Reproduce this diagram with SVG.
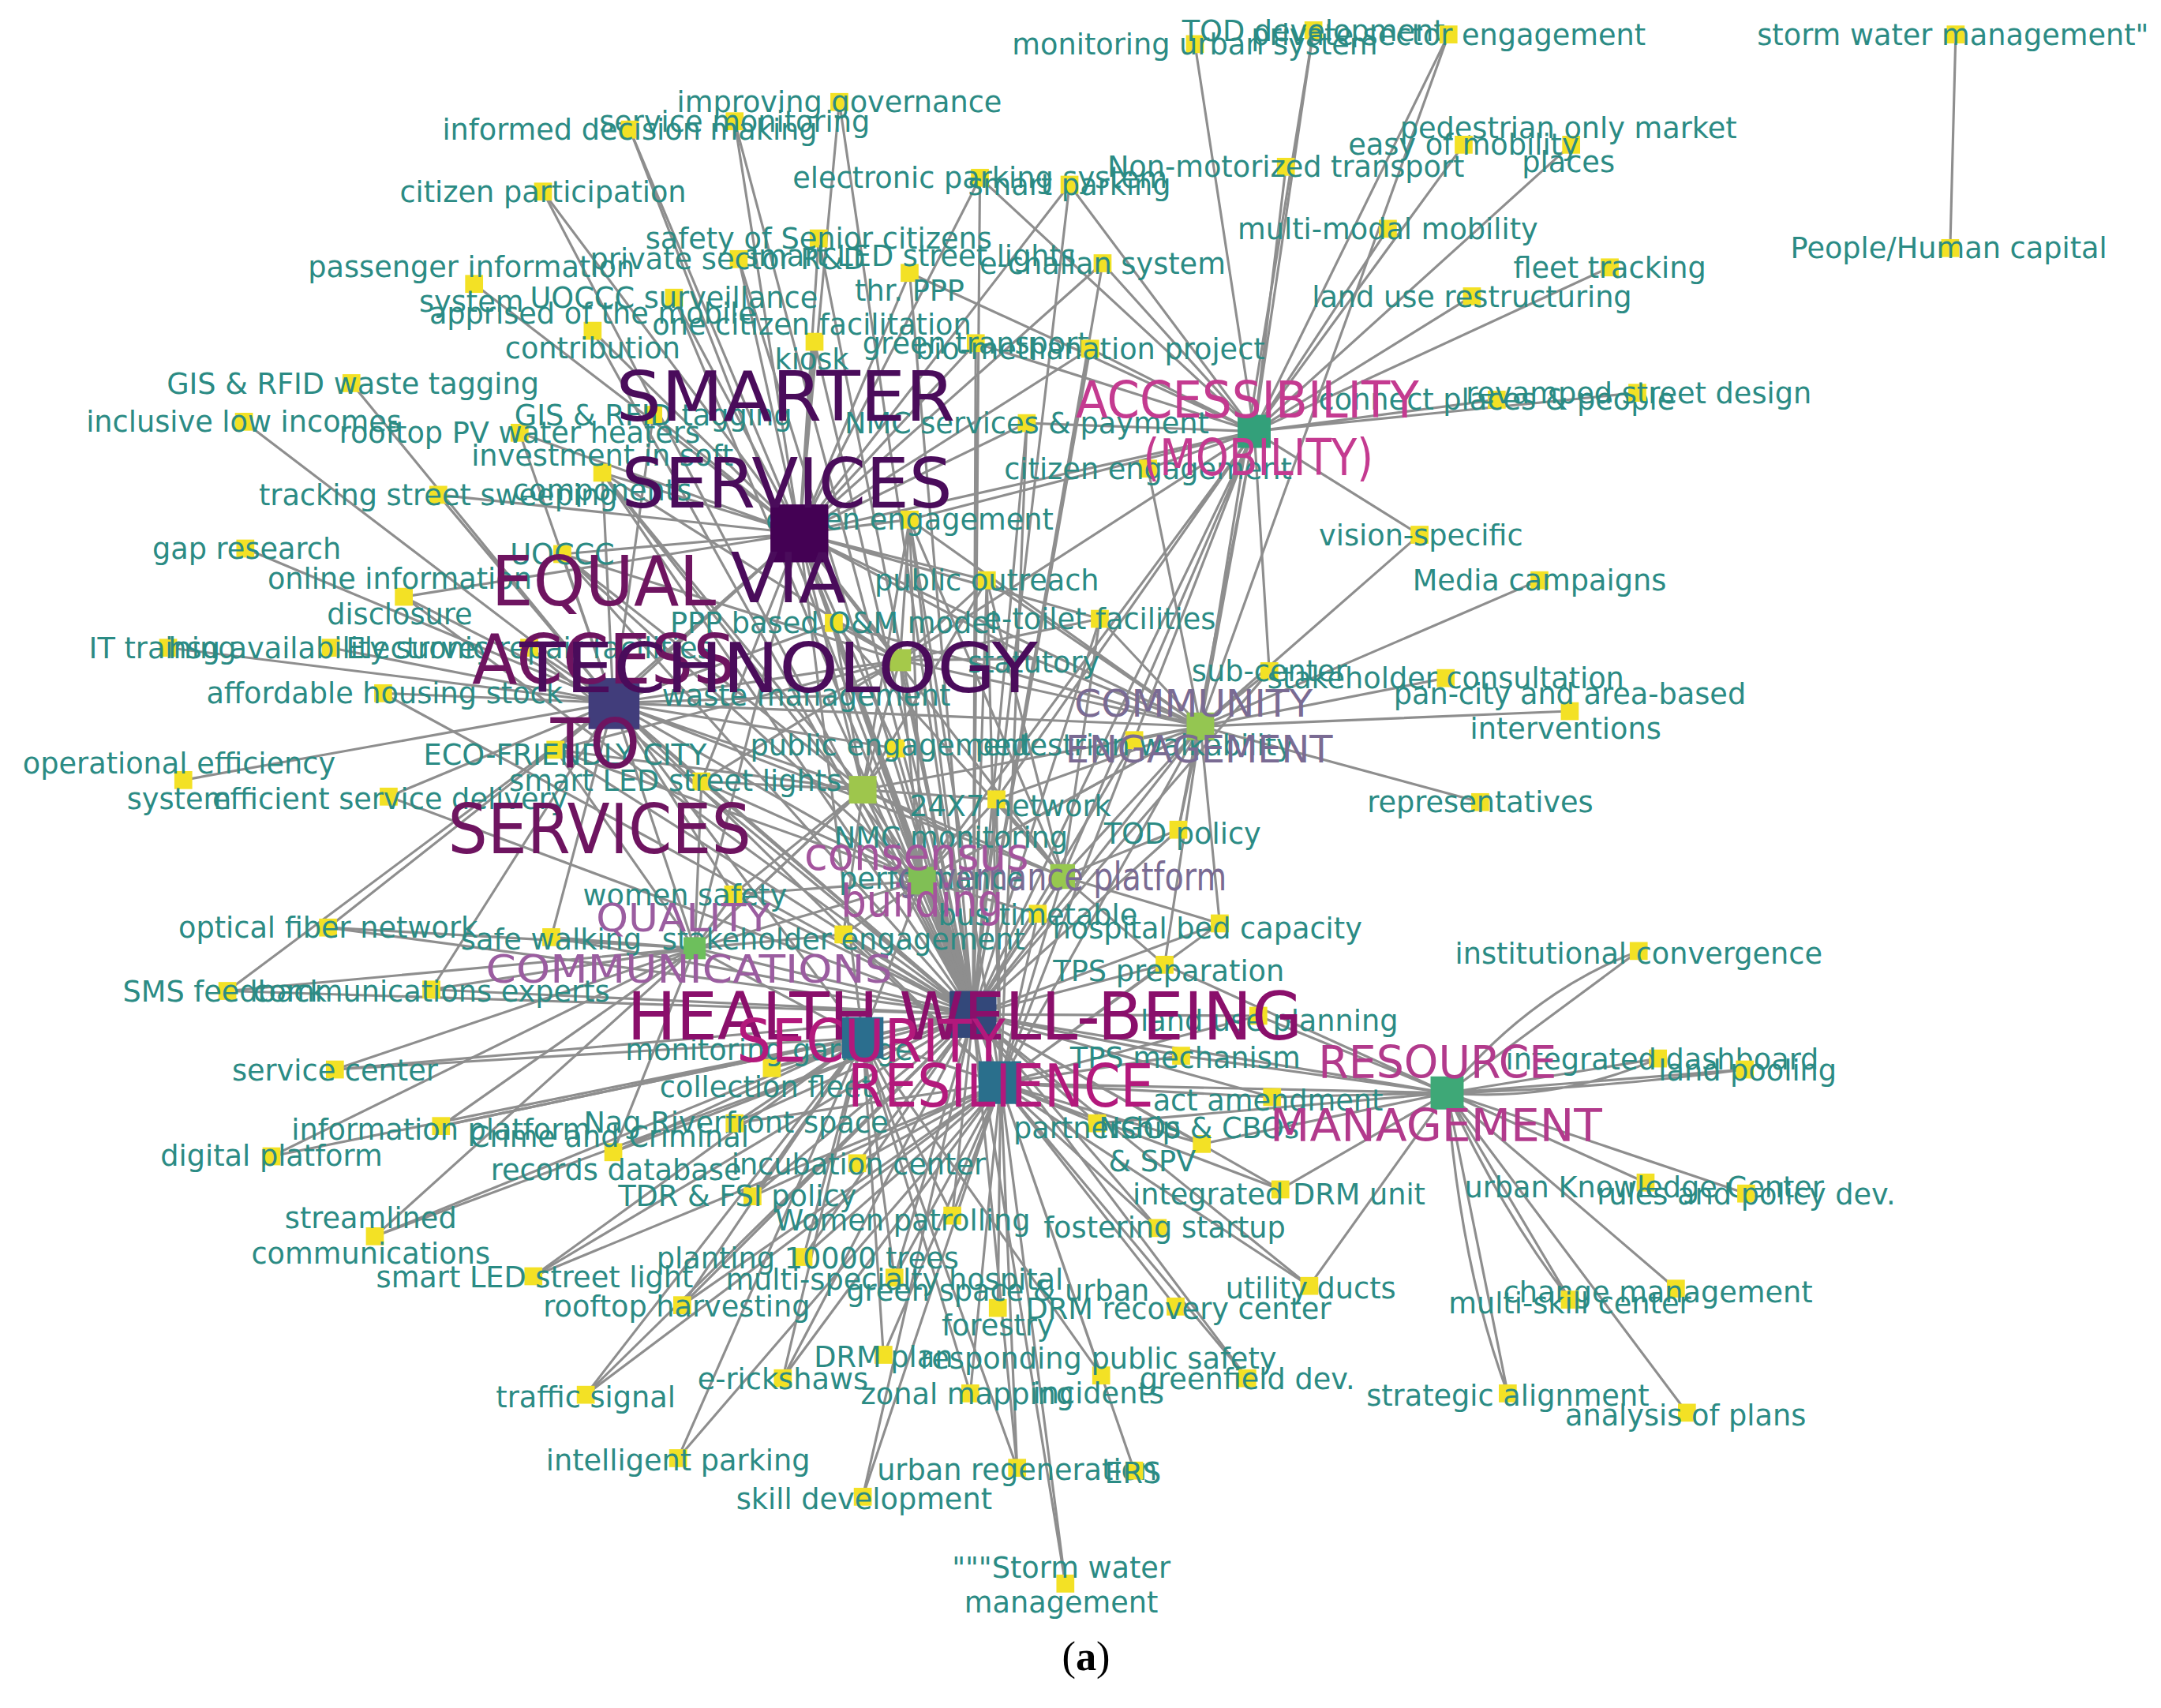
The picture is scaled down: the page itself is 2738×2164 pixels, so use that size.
<svg xmlns="http://www.w3.org/2000/svg" width="2738" height="2164" viewBox="0 0 2738 2164">
<style>
.e path{stroke:#8e8e8e;stroke-width:1.8;fill:none}
.n{fill:#f3e125}
.t{font-family:"DejaVu Sans",sans-serif;font-size:21px;fill:#2b8b84;text-anchor:middle}
.b{font-family:"DejaVu Sans",sans-serif;text-anchor:middle}
</style>
<rect width="2738" height="2164" fill="#ffffff"/>
<g transform="scale(1.7462)">
<g id="connectors" class="e">
<path d="M580 387L457 94M580 387L533 88M580 387L609 74M580 387L394 139M580 387L344 206M580 387L489 216M580 387L594 173M580 387L536 188M580 387L430 240M580 387L591 248M580 387L660 198M580 387L711 129M580 387L776 134M580 387L800 191M580 387L708 249M580 387L791 253M580 387L745 307M580 387L660 377M580 387L716 421M580 387L605 452M580 387L377 314M580 387L474 301M580 387L437 343M580 387L318 359M580 387L408 402M580 387L293 433M580 387L403 544M580 387L798 449M580 387L910 313M580 387L445 510M580 387L706 736M580 387L653 479M580 387L626 573M580 387L669 639M580 387L771 636M580 387L871 527M580 387L726 786M580 387L626 753M580 387L504 688M580 387L750 478M580 387L650 543M580 387L509 567"/>
<path d="M445 510L255 278M445 510L177 306M445 510L377 314M445 510L437 343M445 510L318 359M445 510L178 398M445 510L408 402M445 510L293 433M445 510L122 470M445 510L240 470M445 510L384 470M445 510L278 503M445 510L133 566M445 510L282 578M445 510L403 544M445 510L509 567M445 510L400 680M445 510L238 673M445 510L474 301M445 510L605 452M445 510L653 479M445 510L626 573M445 510L669 639M445 510L504 688M445 510L706 736M445 510L626 753M445 510L726 786M445 510L771 636M445 510L871 527M445 510L600 505M445 510L650 543M445 510L532 649M445 510L165 719M445 510L313 718"/>
<path d="M910 313L867 32M910 313L953 22M910 313L1051 25M910 313L933 121M910 313L1062 105M910 313L1140 105M910 313L1007 166M910 313L1168 194M910 313L1068 215M910 313L1086 290M910 313L1188 285M910 313L711 129M910 313L776 134M910 313L800 191M910 313L708 249M910 313L660 198M910 313L833 340M910 313L660 377M910 313L1030 388M910 313L921 487M910 313L855 602M910 313L871 527M910 313L706 736M910 313L771 636M910 313L653 479M910 313L745 307M910 313L791 253M910 313L723 580M910 313L726 786M910 313L669 639"/>
<path d="M871 527L1051 25M871 527L921 487M871 527L1049 492M871 527L1139 516M871 527L1074 582M871 527L1117 421M871 527L1030 388M871 527L716 421M871 527L798 449M871 527L833 340M871 527L855 602M871 527L723 580M871 527L706 736M871 527L771 636M871 527L669 639M871 527L626 573M871 527L653 479M871 527L823 537M871 527L726 786M871 527L750 478M871 527L885 670M871 527L845 700M871 527L605 452M871 527L660 377M871 527L953 22"/>
<path d="M504 688L238 673M504 688L400 680M504 688L165 719M504 688L313 718M504 688L243 776M504 688L320 817M504 688L197 839M504 688L272 897M504 688L612 678M504 688L706 736M504 688L669 639M504 688L626 753M504 688L532 649M504 688L445 836M504 688L403 544M504 688L509 567M504 688L626 573"/>
<path d="M706 736L560 775M706 736L622 844M706 736L546 868M706 736L691 882M706 736L649 927M706 736L387 926M706 736L425 1012M706 736L626 1086M706 736L913 737M706 736L845 700M706 736L885 670M706 736L753 663M706 736L857 766M706 736L738 1065M706 736L905 1000M706 736L950 933M706 736L533 815M706 736L445 836M706 736L238 673M706 736L313 718M706 736L320 817M706 736L612 678M706 736L532 649M706 736L723 580M706 736L690 604M706 736L1050 793M706 736L840 891M706 736L796 815M706 736L872 830M706 736L609 74M706 736L457 94M706 736L594 173M706 736L660 198M706 736L591 248M706 736L394 139M706 736L165 719M706 736L243 776M706 736L929 863M706 736L923 796M706 736L568 1000M706 736L495 947M706 736L583 912M706 736L773 1149M706 736L605 452M706 736L716 421M706 736L798 449M706 736L660 377M706 736L745 307M706 736L708 249M706 736L791 253M706 736L800 191M706 736L776 134M706 736L711 129M706 736L437 343M706 736L408 402M706 736L293 433M706 736L403 544M706 736L509 567M706 736L282 578M706 736L278 503M706 736L384 470M706 736L400 680M706 736L197 839M706 736L272 897M706 736L533 88M706 736L536 188M706 736L489 216M706 736L430 240M706 736L650 543M706 736L600 505M706 736L750 478M706 736L823 537M706 736L921 487M706 736L855 602"/>
<path d="M726 786L583 912M726 786L724 949M726 786L495 947M726 786L853 948M726 786L950 933M726 786L641 983M726 786L799 998M726 786L905 1000M726 786L568 1000M726 786L704 1011M726 786L738 1065M726 786L823 1067M726 786L773 1149M726 786L929 863M726 786L923 796M726 786L872 830M726 786L796 815M726 786L840 891M726 786L1050 793M726 786L691 882M726 786L533 815M726 786L622 844M726 786L546 868M726 786L626 1086M726 786L913 737M726 786L857 766M726 786L649 927M726 786L660 377M726 786L605 452M726 786L716 421M726 786L745 307M726 786L387 926M726 786L425 1012M726 786L492 1058M726 786L845 700M726 786L885 670M726 786L753 663M726 786L723 580M726 786L612 678"/>
<path d="M626 753L445 836M626 753L533 815M626 753L492 1058M626 753L691 882M626 753L799 998M626 753L560 775M626 753L546 868M626 753L704 1011M626 753L641 983M626 753L568 1000M626 753L425 1012M626 753L726 786M626 753L706 736M626 753L387 926M626 753L320 817M626 753L243 776M626 753L272 897M626 753L583 912M626 753L495 947M626 753L649 927M626 753L738 1065"/>
<path d="M1050 793L1189 690M1050 793L1203 768M1050 793L1266 776M1050 793L1194 858M1050 793L1267 866M1050 793L1216 935M1050 793L1139 943M1050 793L1094 1011M1050 793L1224 1025M1050 793L923 796M1050 793L857 766M1050 793L913 737M1050 793L845 700M1050 793L929 863M1050 793L950 933M1050 793L872 830M1050 793L796 815M1050 793Q1110 720 1189 690M1050 793Q1160 790 1266 776M1050 793Q1060 920 1094 1011M1050 793Q1090 880 1139 943M1050 793Q1130 800 1203 768"/>
<path d="M653 479L605 452M653 479L716 421M653 479L798 449M653 479L750 478M653 479L600 505M653 479L626 573M653 479L669 639M653 479L706 736M653 479L660 377M653 479L437 343M653 479L408 402M653 479L403 544M653 479L509 567M626 573L723 580M626 573L509 567M626 573L403 544M626 573L690 604M626 573L650 543M626 573L706 736M626 573L669 639M626 573L504 688M626 573L771 636M626 573L605 452M626 573L660 377M626 573L437 343M626 573L408 402M626 573L716 421M626 573L612 678M626 573L532 649M669 639L612 678M669 639L532 649M669 639L753 663M669 639L723 580M669 639L690 604M669 639L706 736M669 639L871 527M669 639L626 753M669 639L408 402M669 639L437 343M669 639L403 544M669 639L509 567M669 639L605 452M669 639L660 377M669 639L726 786M771 636L855 602M771 636L885 670M771 636L845 700M771 636L753 663M771 636L723 580M771 636L706 736M771 636L726 786M771 636L605 452M771 636L660 377M771 636L716 421M771 636L798 449M1419 25L1415 180"/>
</g>
<g id="n01"><rect class="n" x="860.5" y="25.5" width="13" height="13"/><text class="t" x="867" y="39.5">monitoring urban system</text></g>
<g id="n02"><rect class="n" x="946.5" y="15.5" width="13" height="13"/><text class="t" x="953" y="29.5">TOD development</text></g>
<g id="n03"><rect class="n" x="1044.5" y="18.5" width="13" height="13"/><text class="t" x="1051" y="32.5">private sector engagement</text></g>
<g id="n04"><rect class="n" x="1412.5" y="18.5" width="13" height="13"/><text class="t" x="1417" y="32.5">storm water management&quot;</text></g>
<g id="n05"><rect class="n" x="1408.5" y="173.5" width="13" height="13"/><text class="t" x="1414" y="187.5">People/Human capital</text></g>
<g id="n06"><rect class="n" x="602.5" y="67.5" width="13" height="13"/><text class="t" x="609" y="81.5">improving governance</text></g>
<g id="n07"><rect class="n" x="526.5" y="81.5" width="13" height="13"/><text class="t" x="533" y="95.5">service monitoring</text></g>
<g id="n08"><rect class="n" x="450.5" y="87.5" width="13" height="13"/><text class="t" x="457" y="101.5">informed decision making</text></g>
<g id="n09"><rect class="n" x="387.5" y="132.5" width="13" height="13"/><text class="t" x="394" y="146.5">citizen participation</text></g>
<g id="n10"><rect class="n" x="704.5" y="122.5" width="13" height="13"/><text class="t" x="711" y="136.5">electronic parking system</text></g>
<g id="n11"><rect class="n" x="769.5" y="127.5" width="13" height="13"/><text class="t" x="776" y="141.5">smart parking</text></g>
<g id="n12"><rect class="n" x="926.5" y="114.5" width="13" height="13"/><text class="t" x="933" y="128.5">Non-motorized transport</text></g>
<g id="n13"><rect class="n" x="1133.5" y="98.5" width="13" height="13"/><text class="t" x="1138" y="100"><tspan x="1138">pedestrian only market</tspan><tspan x="1138" dy="25">places</tspan></text></g>
<g id="n14"><rect class="n" x="1055.5" y="98.5" width="13" height="13"/><text class="t" x="1062" y="112.5">easy of mobility</text></g>
<g id="n15"><rect class="n" x="1000.5" y="159.5" width="13" height="13"/><text class="t" x="1007" y="173.5">multi-modal mobility</text></g>
<g id="n16"><rect class="n" x="1161.5" y="187.5" width="13" height="13"/><text class="t" x="1168" y="201.5">fleet tracking</text></g>
<g id="n17"><rect class="n" x="1061.5" y="208.5" width="13" height="13"/><text class="t" x="1068" y="222.5">land use restructuring</text></g>
<g id="n18"><rect class="n" x="793.5" y="184.5" width="13" height="13"/><text class="t" x="800" y="198.5">e-challan system</text></g>
<g id="n19"><rect class="n" x="587.5" y="166.5" width="13" height="13"/><text class="t" x="594" y="180.5">safety of Senior citizens</text></g>
<g id="n20"><rect class="n" x="653.5" y="191.5" width="13" height="13"/><text class="t" x="660" y="193"><tspan x="660">smart LED street lights</tspan><tspan x="660" dy="25">thr. PPP</tspan></text></g>
<g id="n21"><rect class="n" x="529.5" y="181.5" width="13" height="13"/><text class="t" x="528" y="195.5">private sector R&amp;D</text></g>
<g id="n22"><rect class="n" x="337.5" y="199.5" width="13" height="13"/><text class="t" x="342" y="201"><tspan x="342">passenger information</tspan><tspan x="342" dy="25">system</tspan></text></g>
<g id="n23"><rect class="n" x="482.5" y="209.5" width="13" height="13"/><text class="t" x="489" y="223.5">UOCCC surveillance</text></g>
<g id="n24"><rect class="n" x="423.5" y="233.5" width="13" height="13"/><text class="t" x="430" y="235"><tspan x="430">apprised of the mobile</tspan><tspan x="430" dy="25">contribution</tspan></text></g>
<g id="n25"><rect class="n" x="584.5" y="241.5" width="13" height="13"/><text class="t" x="589" y="243"><tspan x="589">one citizen facilitation</tspan><tspan x="589" dy="25">kiosk</tspan></text></g>
<g id="n26"><rect class="n" x="701.5" y="242.5" width="13" height="13"/><text class="t" x="708" y="256.5">green transport</text></g>
<g id="n27"><rect class="n" x="784.5" y="246.5" width="13" height="13"/><text class="t" x="791" y="260.5">bio-methanation project</text></g>
<g id="n28"><rect class="n" x="738.5" y="300.5" width="13" height="13"/><text class="t" x="745" y="314.5">NMC services &amp; payment</text></g>
<g id="n29"><rect class="n" x="1079.5" y="283.5" width="13" height="13"/><text class="t" x="1086" y="297.5">connect places &amp; people</text></g>
<g id="n30"><rect class="n" x="1181.5" y="278.5" width="13" height="13"/><text class="t" x="1189" y="292.5">revamped street design</text></g>
<g id="n31"><rect class="n" x="826.5" y="333.5" width="13" height="13"/><text class="t" x="833" y="347.5">citizen engagement</text></g>
<g id="n32"><rect class="n" x="653.5" y="370.5" width="13" height="13"/><text class="t" x="660" y="384.5">citizen engagement</text></g>
<g id="n33"><rect class="n" x="1023.5" y="381.5" width="13" height="13"/><text class="t" x="1031" y="395.5">vision-specific</text></g>
<g id="n34"><rect class="n" x="1110.5" y="414.5" width="13" height="13"/><text class="t" x="1117" y="428.5">Media campaigns</text></g>
<g id="n35"><rect class="n" x="709.5" y="414.5" width="13" height="13"/><text class="t" x="716" y="428.5">public outreach</text></g>
<g id="n36"><rect class="n" x="791.5" y="442.5" width="13" height="13"/><text class="t" x="798" y="456.5">e-toilet facilities</text></g>
<g id="n37"><rect class="n" x="598.5" y="445.5" width="13" height="13"/><text class="t" x="605" y="459.5">PPP based O&amp;M model</text></g>
<g id="n38"><rect class="n" x="248.5" y="271.5" width="13" height="13"/><text class="t" x="256" y="285.5">GIS &amp; RFID waste tagging</text></g>
<g id="n39"><rect class="n" x="170.5" y="299.5" width="13" height="13"/><text class="t" x="177" y="313.5">inclusive low incomes</text></g>
<g id="n40"><rect class="n" x="370.5" y="307.5" width="13" height="13"/><text class="t" x="377" y="321.5">rooftop PV water heaters</text></g>
<g id="n41"><rect class="n" x="467.5" y="294.5" width="13" height="13"/><text class="t" x="474" y="308.5">GIS &amp; RFID tagging</text></g>
<g id="n42"><rect class="n" x="430.5" y="336.5" width="13" height="13"/><text class="t" x="437" y="338"><tspan x="437">investment in soft</tspan><tspan x="437" dy="25">components</tspan></text></g>
<g id="n43"><rect class="n" x="311.5" y="352.5" width="13" height="13"/><text class="t" x="318" y="366.5">tracking street sweeping</text></g>
<g id="n44"><rect class="n" x="171.5" y="391.5" width="13" height="13"/><text class="t" x="179" y="405.5">gap research</text></g>
<g id="n45"><rect class="n" x="401.5" y="395.5" width="13" height="13"/><text class="t" x="408" y="409.5">UOCCC</text></g>
<g id="n46"><rect class="n" x="286.5" y="426.5" width="13" height="13"/><text class="t" x="290" y="427"><tspan x="290">online information</tspan><tspan x="290" dy="26">disclosure</tspan></text></g>
<g id="n47"><rect class="n" x="115.5" y="463.5" width="13" height="13"/><text class="t" x="118" y="477.5">IT training</text></g>
<g id="n48"><rect class="n" x="233.5" y="463.5" width="13" height="13"/><text class="t" x="240" y="477.5">hsg availability survey</text></g>
<g id="n49"><rect class="n" x="377.5" y="463.5" width="13" height="13"/><text class="t" x="384" y="477.5">Electronic repair facilities</text></g>
<g id="n50"><rect class="n" x="271.5" y="496.5" width="13" height="13"/><text class="t" x="279" y="510.5">affordable housing stock</text></g>
<g id="n51"><rect class="n" x="126.5" y="559.5" width="13" height="13"/><text class="t" x="130" y="561"><tspan x="130">operational efficiency</tspan><tspan x="130" dy="26">system</tspan></text></g>
<g id="n52"><rect class="n" x="275.5" y="571.5" width="13" height="13"/><text class="t" x="283" y="587">efficient service delivery</text></g>
<g id="n53"><rect class="n" x="396.5" y="537.5" width="13" height="13"/><text class="t" x="410" y="555">ECO-FRIENDLY CITY</text></g>
<g id="n54"><rect class="n" x="502.5" y="560.5" width="13" height="13"/><text class="t" x="490" y="574">smart LED street lights</text></g>
<g id="n55"><rect class="n" x="914.5" y="480.5" width="13" height="13"/><text class="t" x="921" y="494.5">sub-center</text></g>
<g id="n56"><rect class="n" x="1042.5" y="485.5" width="13" height="13"/><text class="t" x="1049" y="499.5">stakeholder consultation</text></g>
<g id="n57"><rect class="n" x="1132.5" y="509.5" width="13" height="13"/><text class="t" x="1139" y="511"><tspan x="1139">pan-city and area-based</tspan><tspan x="1136" dy="25">interventions</tspan></text></g>
<g id="n58"><rect class="n" x="1067.5" y="575.5" width="13" height="13"/><text class="t" x="1074" y="589.5">representatives</text></g>
<g id="n59"><rect class="n" x="716.5" y="573.5" width="13" height="13"/><text class="t" x="733" y="592">24X7 network</text></g>
<g id="n60"><rect class="n" x="848.5" y="595.5" width="13" height="13"/><text class="t" x="858" y="612">TOD policy</text></g>
<g id="n61"><text class="t" x="690" y="615">NMC monitoring</text></g>
<g id="n62"><rect class="n" x="231.5" y="666.5" width="13" height="13"/><text class="t" x="238" y="680.5">optical fiber network</text></g>
<g id="n63"><rect class="n" x="393.5" y="673.5" width="13" height="13"/><text class="t" x="400" y="689">safe walking</text></g>
<g id="n64"><rect class="n" x="605.5" y="671.5" width="13" height="13"/><text class="t" x="612" y="689">stakeholder engagement</text></g>
<g id="n65"><rect class="n" x="158.5" y="712.5" width="13" height="13"/><text class="t" x="163" y="727">SMS feedback</text></g>
<g id="n66"><rect class="n" x="306.5" y="711.5" width="13" height="13"/><text class="t" x="313" y="727">communications experts</text></g>
<g id="n67"><rect class="n" x="236.5" y="769.5" width="13" height="13"/><text class="t" x="243" y="784">service center</text></g>
<g id="n68"><rect class="n" x="313.5" y="810.5" width="13" height="13"/><text class="t" x="320" y="827">information platform</text></g>
<g id="n69"><rect class="n" x="190.5" y="832.5" width="13" height="13"/><text class="t" x="197" y="846">digital platform</text></g>
<g id="n70"><rect class="n" x="438.5" y="829.5" width="13" height="13"/><text class="t" x="442" y="832"><tspan x="442">Crime and Criminal</tspan><tspan x="447" dy="24">records database</tspan></text></g>
<g id="n71"><rect class="n" x="526.5" y="808.5" width="13" height="13"/><text class="t" x="534" y="822">Nag Riverfront space</text></g>
<g id="n72"><rect class="n" x="553.5" y="768.5" width="13" height="13"/><text class="t" x="558" y="769"><tspan x="558">monitoring garbage</tspan><tspan x="556" dy="27">collection fleet</tspan></text></g>
<g id="n73"><rect class="n" x="615.5" y="837.5" width="13" height="13"/><text class="t" x="623" y="852">incubation center</text></g>
<g id="n74"><rect class="n" x="539.5" y="861.5" width="13" height="13"/><text class="t" x="535" y="875">TDR &amp; FSI policy</text></g>
<g id="n75"><rect class="n" x="684.5" y="875.5" width="13" height="13"/><text class="t" x="655" y="893">Women patrolling</text></g>
<g id="n76"><rect class="n" x="576.5" y="905.5" width="13" height="13"/><text class="t" x="586" y="920">planting 10000 trees</text></g>
<g id="n77"><rect class="n" x="642.5" y="920.5" width="13" height="13"/><text class="t" x="649" y="936">multi-specialty hospital</text></g>
<g id="n78"><rect class="n" x="717.5" y="942.5" width="13" height="13"/><text class="t" x="724" y="944"><tspan x="724">green space &amp; urban</tspan><tspan x="724" dy="25">forestry</tspan></text></g>
<g id="n79"><rect class="n" x="488.5" y="940.5" width="13" height="13"/><text class="t" x="491" y="955">rooftop harvesting</text></g>
<g id="n80"><rect class="n" x="380.5" y="919.5" width="13" height="13"/><text class="t" x="388" y="934">smart LED street light</text></g>
<g id="n81"><rect class="n" x="265.5" y="890.5" width="13" height="13"/><text class="t" x="269" y="891"><tspan x="269">streamlined</tspan><tspan x="269" dy="26">communications</tspan></text></g>
<g id="n82"><rect class="n" x="846.5" y="941.5" width="13" height="13"/><text class="t" x="855" y="957">DRM recovery center</text></g>
<g id="n83"><rect class="n" x="943.5" y="926.5" width="13" height="13"/><text class="t" x="951" y="942">utility ducts</text></g>
<g id="n84"><rect class="n" x="634.5" y="976.5" width="13" height="13"/><text class="t" x="641" y="992">DRM plan</text></g>
<g id="n85"><rect class="n" x="792.5" y="991.5" width="13" height="13"/><text class="t" x="797" y="993"><tspan x="797">responding public safety</tspan><tspan x="797" dy="25">incidents</tspan></text></g>
<g id="n86"><rect class="n" x="898.5" y="993.5" width="13" height="13"/><text class="t" x="905" y="1008">greenfield dev.</text></g>
<g id="n87"><rect class="n" x="561.5" y="993.5" width="13" height="13"/><text class="t" x="568" y="1008">e-rickshaws</text></g>
<g id="n88"><rect class="n" x="697.5" y="1004.5" width="13" height="13"/><text class="t" x="702" y="1019">zonal mapping</text></g>
<g id="n89"><rect class="n" x="418.5" y="1005.5" width="13" height="13"/><text class="t" x="425" y="1021">traffic signal</text></g>
<g id="n90"><rect class="n" x="485.5" y="1051.5" width="13" height="13"/><text class="t" x="492" y="1067">intelligent parking</text></g>
<g id="n91"><rect class="n" x="1087.5" y="1004.5" width="13" height="13"/><text class="t" x="1094" y="1020">strategic alignment</text></g>
<g id="n92"><rect class="n" x="1217.5" y="1018.5" width="13" height="13"/><text class="t" x="1223" y="1034">analysis of plans</text></g>
<g id="n93"><rect class="n" x="1209.5" y="928.5" width="13" height="13"/><text class="t" x="1203" y="945">change management</text></g>
<g id="n94"><rect class="n" x="1132.5" y="936.5" width="13" height="13"/><text class="t" x="1139" y="953">multi-skill center</text></g>
<g id="n95"><rect class="n" x="1187.5" y="851.5" width="13" height="13"/><text class="t" x="1193" y="869">urban Knowledge Center</text></g>
<g id="n96"><rect class="n" x="1260.5" y="859.5" width="13" height="13"/><text class="t" x="1267" y="874">rules and policy dev.</text></g>
<g id="n97"><rect class="n" x="731.5" y="1058.5" width="13" height="13"/><text class="t" x="738" y="1074">urban regeneration</text></g>
<g id="n98"><rect class="n" x="816.5" y="1060.5" width="13" height="13"/><text class="t" x="822" y="1076">ERS</text></g>
<g id="n99"><rect class="n" x="619.5" y="1079.5" width="13" height="13"/><text class="t" x="627" y="1095">skill development</text></g>
<g id="n100"><rect class="n" x="766.5" y="1142.5" width="13" height="13"/><text class="t" x="770" y="1145"><tspan x="770">&quot;&quot;&quot;Storm water</tspan><tspan x="770" dy="25">management</tspan></text></g>
<g id="n101"><rect class="n" x="1182.5" y="683.5" width="13" height="13"/><text class="t" x="1189" y="699">institutional convergence</text></g>
<g id="n102"><rect class="n" x="1196.5" y="761.5" width="13" height="13"/><text class="t" x="1206" y="776">integrated dashboard</text></g>
<g id="n103"><rect class="n" x="1259.5" y="769.5" width="13" height="13"/><text class="t" x="1268" y="784">land pooling</text></g>
<g id="n104"><rect class="n" x="922.5" y="856.5" width="13" height="13"/><text class="t" x="928" y="874">integrated DRM unit</text></g>
<g id="n105"><rect class="n" x="916.5" y="789.5" width="13" height="13"/><text class="t" x="920" y="806">act amendment</text></g>
<g id="n106"><rect class="n" x="850.5" y="759.5" width="13" height="13"/><text class="t" x="860" y="775">TPS mechanism</text></g>
<g id="n107"><rect class="n" x="906.5" y="730.5" width="13" height="13"/><text class="t" x="921" y="748">land use planning</text></g>
<g id="n108"><rect class="n" x="838.5" y="693.5" width="13" height="13"/><text class="t" x="848" y="712">TPS preparation</text></g>
<g id="n109"><rect class="n" x="878.5" y="663.5" width="13" height="13"/><text class="t" x="876" y="681">hospital bed capacity</text></g>
<g id="n110"><rect class="n" x="746.5" y="656.5" width="13" height="13"/><text class="t" x="753" y="671">bus timetable</text></g>
<g id="n111"><rect class="n" x="789.5" y="808.5" width="13" height="13"/><text class="t" x="796" y="826">partnership</text></g>
<g id="n112"><rect class="n" x="865.5" y="823.5" width="13" height="13"/><text class="t" x="870" y="826"><tspan x="870">NGOs &amp; CBOs</tspan><tspan x="836" dy="24">&amp; SPV</tspan></text></g>
<g id="n113"><rect class="n" x="833.5" y="884.5" width="13" height="13"/><text class="t" x="845" y="898">fostering startup</text></g>
<g id="n114"><rect class="n" x="525.5" y="642.5" width="13" height="13"/><text class="t" x="497" y="657">women safety</text></g>
<g id="n115"><rect class="n" x="643.5" y="536.5" width="13" height="13"/><text class="t" x="646" y="548">public engagement</text></g>
<g id="n116"><text class="t" x="750" y="488">statutory</text></g>
<g id="n117"><text class="t" x="585" y="512">waste management</text></g>
<g id="n118"><rect class="n" x="816.5" y="530.5" width="13" height="13"/><text class="t" x="823" y="548">pedestrian walkability</text></g>
<g id="n119"><text class="t" x="676" y="645">performance</text></g>
<g id="hub-community"><rect x="861" y="517" width="20" height="20" fill="#94c651"/><text class="b" font-size="27" fill="#7a6b93"><tspan x="866" y="520" textLength="173" lengthAdjust="spacingAndGlyphs">COMMUNITY</tspan><tspan x="870" y="553" textLength="194" lengthAdjust="spacingAndGlyphs">ENGAGEMENT</tspan></text></g>
<g id="hub-g1"><rect x="645" y="471" width="16" height="16" fill="#a5c94a"/></g>
<g id="hub-g2"><rect x="616" y="563" width="20" height="20" fill="#9ec64c"/></g>
<g id="hub-governance"><rect x="762" y="627" width="18" height="18" fill="#97c84f"/><text class="b" font-size="28" fill="#7a6b93" x="771" y="646" textLength="238" lengthAdjust="spacingAndGlyphs">governance platform</text></g>
<g id="hub-consensus"><rect x="659" y="629" width="20" height="20" fill="#80bf55"/><text class="b" font-size="33" fill="#a4549d"><tspan x="665" y="631" textLength="163" lengthAdjust="spacingAndGlyphs">consensus</tspan><tspan x="669" y="665" textLength="118" lengthAdjust="spacingAndGlyphs">building</tspan></text></g>
<g id="hub-quality"><rect x="496" y="680" width="16" height="16" fill="#6dbf5c"/><text class="b" font-size="29" fill="#9b5da0"><tspan x="496" y="676" textLength="127" lengthAdjust="spacingAndGlyphs">QUALITY</tspan><tspan x="500" y="713" textLength="295" lengthAdjust="spacingAndGlyphs">COMMUNICATIONS</tspan></text></g>
<g id="hub-accessibility"><rect x="898" y="301" width="24" height="24" fill="#33a07a"/><text class="b" font-size="37" fill="#c43a90"><tspan x="905" y="303" textLength="249" lengthAdjust="spacingAndGlyphs">ACCESSIBILITY</tspan><tspan x="913" y="345" textLength="167" lengthAdjust="spacingAndGlyphs">(MOBILITY)</tspan></text></g>
<g id="hub-resource"><rect x="1038" y="781" width="24" height="24" fill="#3ea877"/><text class="b" font-size="33" fill="#b23a8c"><tspan x="1043" y="782" textLength="173" lengthAdjust="spacingAndGlyphs">RESOURCE</tspan><tspan x="1042" y="828" textLength="241" lengthAdjust="spacingAndGlyphs">MANAGEMENT</tspan></text></g>
<g id="hub-equal"><rect x="427" y="492" width="37" height="37" fill="#413d7b"/><text class="b" font-size="50" fill="#6e1460"><tspan x="438" y="439" textLength="163" lengthAdjust="spacingAndGlyphs">EQUAL</tspan><tspan x="438" y="496" textLength="191" lengthAdjust="spacingAndGlyphs">ACCESS</tspan><tspan x="432" y="557" textLength="65" lengthAdjust="spacingAndGlyphs">TO</tspan><tspan x="435" y="619" textLength="220" lengthAdjust="spacingAndGlyphs">SERVICES</tspan></text></g>
<g id="hub-smarter"><rect x="559" y="366" width="42" height="42" fill="#440154"/><text class="b" font-size="50" fill="#4a0c5b"><tspan x="570" y="305" textLength="246" lengthAdjust="spacingAndGlyphs">SMARTER</tspan><tspan x="571" y="368" textLength="240" lengthAdjust="spacingAndGlyphs">SERVICES</tspan><tspan x="572" y="437" textLength="84" lengthAdjust="spacingAndGlyphs">VIA</tspan><tspan x="565" y="502" textLength="376" lengthAdjust="spacingAndGlyphs">TECHNOLOGY</tspan></text></g>
<g id="hub-health"><rect x="689" y="719" width="34" height="34" fill="#33487a"/><text class="b" font-size="48" fill="#8a0f6b" x="700" y="754" textLength="490" lengthAdjust="spacingAndGlyphs">HEALTH WELL-BEING</text></g>
<g id="hub-security"><rect x="611" y="738" width="30" height="30" fill="#2b6e8e"/><text class="b" font-size="43" fill="#b3197c" x="632" y="770" textLength="195" lengthAdjust="spacingAndGlyphs">SECURITY</text></g>
<g id="hub-resilience"><rect x="710" y="770" width="31" height="31" fill="#2a6f8c"/><text class="b" font-size="43" fill="#b3197c" x="726" y="803" textLength="222" lengthAdjust="spacingAndGlyphs">RESILIENCE</text></g>
<text x="788" y="1212" font-family="Liberation Serif, serif" font-size="30" text-anchor="middle" fill="#000">(<tspan font-weight="bold">a</tspan>)</text>
</g>
</svg>
